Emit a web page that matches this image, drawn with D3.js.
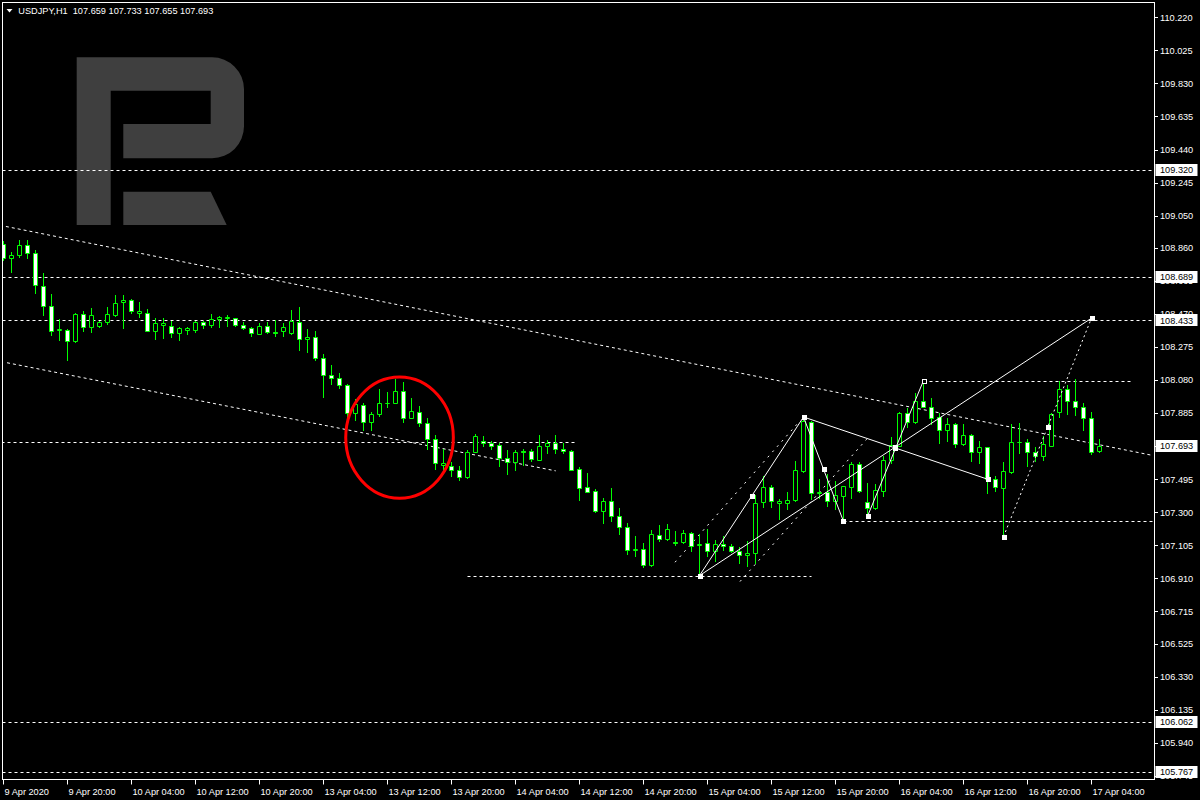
<!DOCTYPE html>
<html><head><meta charset="utf-8">
<script src="https://cdn.jsdelivr.net/npm/d3@7"></script>
<style>html,body{margin:0;padding:0;background:#000;overflow:hidden}svg{display:block}</style>
</head><body>
<svg id="chart" width="1200" height="800"></svg>
<script>
// ---------------- DATA ----------------
const symbol = "USDJPY,H1";
const opens = [108.883,108.801,108.816,108.879,108.832,108.636,108.518,108.376,108.377,108.310,
108.471,108.395,108.398,108.424,108.463,108.542,108.554,108.475,108.477,108.371,
108.406,108.400,108.357,108.377,108.377,108.424,108.406,108.442,108.445,108.445,
108.404,108.389,108.353,108.400,108.363,108.371,108.357,108.424,108.324,108.336,
108.212,108.112,108.094,108.053,107.888,107.935,107.835,107.880,107.945,107.947,
108.018,107.856,107.894,107.829,107.735,107.576,107.570,107.550,107.505,107.656,
107.723,107.711,107.694,107.621,107.597,107.664,107.664,107.611,107.688,107.706,
107.676,107.664,107.558,107.446,107.423,107.305,107.364,107.276,107.211,107.080,
107.081,106.987,107.164,107.140,107.123,107.123,107.176,107.109,107.117,107.070,
107.111,107.099,107.070,107.046,107.058,107.358,107.446,107.352,107.352,107.370,
107.544,107.835,107.411,107.417,107.364,107.397,107.446,107.582,107.358,107.326,
107.426,107.611,107.691,107.888,107.833,107.959,107.923,107.859,107.788,107.818,
107.700,107.753,107.653,107.682,107.499,107.444,107.537,107.717,107.717,107.653,
107.629,107.691,107.894,108.025,107.959,107.923,107.853,107.659];
const highs = [108.903,108.834,108.909,108.909,108.848,108.713,108.585,108.442,108.380,108.477,
108.485,108.502,108.426,108.512,108.579,108.579,108.556,108.542,108.501,108.448,
108.448,108.430,108.395,108.395,108.426,108.426,108.471,108.459,108.465,108.448,
108.424,108.395,108.418,108.424,108.436,108.418,108.496,108.512,108.383,108.371,
108.232,108.167,108.120,108.058,107.966,107.947,107.892,108.025,108.012,108.084,
108.067,107.976,107.929,107.855,107.754,107.674,107.597,107.572,107.670,107.760,
107.749,107.723,107.706,107.668,107.668,107.674,107.674,107.753,107.729,107.753,
107.711,107.667,107.564,107.529,107.435,107.382,107.441,107.323,107.234,107.158,
107.117,107.193,107.223,107.229,107.187,107.193,107.181,107.170,107.199,107.134,
107.158,107.111,107.093,107.128,107.399,107.511,107.458,107.376,107.417,107.605,
107.862,107.839,107.499,107.525,107.485,107.455,107.594,107.594,107.470,107.464,
107.633,107.741,107.890,107.913,108.002,108.078,107.972,107.888,107.853,107.829,
107.823,107.764,107.721,107.685,107.515,107.594,107.818,107.829,107.735,107.682,
107.747,107.885,108.072,108.049,108.084,107.947,107.894,107.733];
const lows = [108.791,108.716,108.807,108.797,108.592,108.463,108.345,108.316,108.198,108.304,
108.369,108.363,108.392,108.410,108.460,108.386,108.475,108.453,108.368,108.322,
108.327,108.333,108.316,108.351,108.365,108.386,108.392,108.392,108.398,108.398,
108.379,108.339,108.349,108.359,108.339,108.339,108.351,108.257,108.245,108.199,
107.980,108.055,108.035,107.856,107.845,107.784,107.784,107.868,107.923,107.945,
107.835,107.853,107.809,107.674,107.556,107.550,107.515,107.489,107.503,107.654,
107.691,107.674,107.574,107.527,107.550,107.580,107.603,107.609,107.650,107.650,
107.647,107.550,107.373,107.418,107.299,107.234,107.250,107.170,107.052,107.040,
106.975,106.985,107.128,107.134,107.108,107.117,107.073,106.926,107.040,107.011,
107.075,107.064,106.999,106.985,106.999,107.329,107.329,107.258,107.317,107.368,
107.540,107.378,107.382,107.338,107.319,107.246,107.384,107.417,107.277,107.317,
107.397,107.590,107.689,107.803,107.829,107.919,107.823,107.711,107.721,107.686,
107.697,107.603,107.591,107.411,107.426,107.157,107.529,107.647,107.574,107.603,
107.609,107.689,107.859,107.878,107.874,107.786,107.641,107.655];
const closes = [108.801,108.820,108.879,108.830,108.642,108.516,108.371,108.379,108.312,108.471,
108.392,108.465,108.424,108.471,108.536,108.554,108.486,108.489,108.371,108.418,
108.418,108.359,108.389,108.389,108.424,108.406,108.442,108.453,108.453,108.404,
108.389,108.359,108.400,108.363,108.357,108.395,108.430,108.324,108.336,108.211,
108.110,108.092,108.051,107.888,107.937,107.835,107.882,107.947,107.947,108.014,
107.856,107.900,107.829,107.735,107.588,107.588,107.550,107.505,107.653,107.747,
107.709,107.691,107.621,107.597,107.653,107.653,107.617,107.688,107.706,107.674,
107.664,107.552,107.444,107.420,107.305,107.364,107.276,107.211,107.075,107.083,
106.987,107.170,107.140,107.199,107.117,107.176,107.103,107.115,107.070,107.111,
107.099,107.070,107.046,107.058,107.352,107.446,107.364,107.364,107.370,107.547,
107.839,107.411,107.417,107.364,107.401,107.452,107.582,107.423,107.323,107.429,
107.609,107.696,107.888,107.835,107.959,107.923,107.853,107.788,107.818,107.700,
107.753,107.653,107.682,107.495,107.446,107.541,107.717,107.714,107.653,107.629,
107.700,107.882,108.025,107.959,107.923,107.853,107.658,107.693];

const timeLabels = ["9 Apr 2020","9 Apr 20:00","10 Apr 04:00","10 Apr 12:00","10 Apr 20:00",
"13 Apr 04:00","13 Apr 12:00","13 Apr 20:00","14 Apr 04:00","14 Apr 12:00","14 Apr 20:00",
"15 Apr 04:00","15 Apr 12:00","15 Apr 20:00","16 Apr 04:00","16 Apr 12:00","16 Apr 20:00","17 Apr 04:00"];
const barsPerTimeLabel = 8;

const priceTicks = [110.220,110.025,109.830,109.635,109.440,109.245,109.050,108.860,108.665,108.470,
108.275,108.080,107.885,107.690,107.495,107.300,107.105,106.910,106.715,106.525,106.330,106.135,105.940,105.745];
const priceMin = 105.745, priceMax = 110.220;

// full-width horizontal levels
const levelPrices = [109.320, 108.689, 108.433, 106.062, 105.767];
// horizontal segments: price, from bar, to bar
const segmentPrices = [107.717, 106.926, 108.077, 107.246];
const segmentFrom   = [-1, 58, 115, 105];
const segmentTo     = [71.5, 101, 141.2, 150];

// descending channel (bar, price)
const channelFrom = [[0.3,108.986],[0.44,108.182]];
const channelTo   = [[143.56,107.636],[69.03,107.544]];

// wave lines (bar, price)
const waveFrom = [[87,106.926],[100,107.862],[108,107.276],[100,107.862],[87,106.926]];
const waveTo   = [[100,107.862],[105,107.246],[115,108.077],[123,107.495],[136,108.445]];
const projFrom = [[125,107.156]];
const projTo   = [[136,108.445]];
// parallel dotted lines
const forkFrom = [[83.94,107.005],[92.06,106.891]];
const forkTo   = [[99.31,107.826],[107.9,107.731]];
// peak marker (bar, price)
const peakMark = [115,108.077];

// highlight ellipse bounds
const circleBars = [42.78, 56.23];
const circlePrices = [108.098, 107.383];

// ---------------- DRAW ----------------
const W = 1200, H = 800;
const plotL = 2.5, plotT = 2.5, plotR = 1154.5, plotB = 779.5;
const svg = d3.select("#chart");
svg.append("rect").attr("width",W).attr("height",H).attr("fill","#000");

const x = d3.scaleLinear().domain([0, opens.length-1]).range([3.5, 3.5 + 8*(opens.length-1)]);
const y = d3.scaleLinear().domain([priceMin, priceMax]).range([775.8, 17.3]);
const FONT = "'Liberation Sans', Arial, sans-serif";

svg.append("defs").append("clipPath").attr("id","plot")
  .append("rect").attr("x",plotL+0.5).attr("y",plotT+0.5).attr("width",plotR-plotL-1).attr("height",plotB-plotT-1);

// logo
svg.append("g").attr("fill","#3f3f3f").selectAll("path")
  .data(["M76.7,57.3 H212 A32,32 0 0 1 244,89.3 V126.3 A32,32 0 0 1 212,158.3 H123.3 V124 H210.7 V90.7 H110.7 V225 H76.7 Z",
         "M123.3,191.7 H210.7 L226.7,225 H123.3 Z"])
  .join("path").attr("d", d=>d);

const g = svg.append("g").attr("clip-path","url(#plot)");
const px = v => Math.round(v) + 0.5;

// full-width levels
g.append("g").selectAll("line").data(levelPrices).join("line")
  .attr("x1", plotL).attr("x2", plotR)
  .attr("y1", d=>px(y(d))).attr("y2", d=>px(y(d)))
  .attr("stroke","#fff").attr("stroke-dasharray","3,3");

// segment levels
g.append("g").selectAll("line").data(segmentPrices).join("line")
  .attr("x1",(d,i)=>x(segmentFrom[i])).attr("x2",(d,i)=>x(segmentTo[i]))
  .attr("y1", d=>px(y(d))).attr("y2", d=>px(y(d)))
  .attr("stroke","#fff").attr("stroke-dasharray","3,3");

// channel
g.append("g").selectAll("line").data(channelFrom).join("line")
  .attr("x1",d=>x(d[0])).attr("y1",d=>y(d[1]))
  .attr("x2",(d,i)=>x(channelTo[i][0])).attr("y2",(d,i)=>y(channelTo[i][1]))
  .attr("stroke","#fff").attr("stroke-dasharray","3,3");

// fork lines
g.append("g").selectAll("line").data(forkFrom).join("line")
  .attr("x1",d=>x(d[0])).attr("y1",d=>y(d[1]))
  .attr("x2",(d,i)=>x(forkTo[i][0])).attr("y2",(d,i)=>y(forkTo[i][1]))
  .attr("stroke","#fff").attr("stroke-dasharray","2,5");

// candles
const cg = g.append("g");
opens.forEach((o,i)=>{
  const cx = x(i), c = closes[i];
  cg.append("line").attr("x1",cx).attr("x2",cx)
    .attr("y1",Math.round(y(highs[i]))).attr("y2",Math.round(y(lows[i]))+1)
    .attr("stroke","#00ff00");
  const t = Math.round(Math.min(y(o),y(c))) + 0.5, b = Math.round(Math.max(y(o),y(c))) + 0.5;
  cg.append("path").attr("d",`M${cx-2},${t}H${cx+2}V${b}H${cx-2}Z`)
    .attr("fill", c >= o ? "#000" : "#fff").attr("stroke","#00ff00");
});

// wave lines
const wg = g.append("g");
wg.selectAll("line.w").data(waveFrom).join("line").attr("class","w")
  .attr("x1",d=>x(d[0])).attr("y1",d=>y(d[1]))
  .attr("x2",(d,i)=>x(waveTo[i][0])).attr("y2",(d,i)=>y(waveTo[i][1]))
  .attr("stroke","#fff");
wg.selectAll("line.p").data(projFrom).join("line").attr("class","p")
  .attr("x1",d=>x(d[0])).attr("y1",d=>y(d[1]))
  .attr("x2",(d,i)=>x(projTo[i][0])).attr("y2",(d,i)=>y(projTo[i][1]))
  .attr("stroke","#fff").attr("stroke-dasharray","2,3");

// markers: endpoints and midpoints
const marks = [];
[[waveFrom,waveTo],[projFrom,projTo]].forEach(([A,B])=>{
  A.forEach((a,i)=>{const b=B[i];
    marks.push(a,b,[(a[0]+b[0])/2,(a[1]+b[1])/2]);});
});
wg.selectAll("rect.m").data(marks).join("rect").attr("class","m")
  .attr("x",d=>Math.round(x(d[0]))-2).attr("y",d=>Math.round(y(d[1]))-2)
  .attr("width",5).attr("height",5).attr("fill","#fff");
wg.append("rect").attr("x",Math.round(x(peakMark[0]))-2+0.5).attr("y",Math.round(y(peakMark[1]))-2+0.5)
  .attr("width",4).attr("height",4).attr("fill","#000").attr("stroke","#fff");

// red ellipse
const ex0 = x(circleBars[0]), ex1 = x(circleBars[1]), ey0 = y(circlePrices[0]), ey1 = y(circlePrices[1]);
g.append("ellipse").attr("cx",(ex0+ex1)/2).attr("cy",(ey0+ey1)/2)
  .attr("rx",(ex1-ex0)/2).attr("ry",(ey1-ey0)/2)
  .attr("fill","none").attr("stroke","#ff0000").attr("stroke-width",3);

// frame
svg.append("rect").attr("x",plotL).attr("y",plotT).attr("width",plotR-plotL).attr("height",plotB-plotT)
  .attr("fill","none").attr("stroke","#fff");

// price axis
const pa = svg.append("g");
pa.selectAll("line").data(priceTicks).join("line")
  .attr("x1",plotR+0.5).attr("x2",plotR+3.5)
  .attr("y1",d=>px(y(d))).attr("y2",d=>px(y(d))).attr("stroke","#fff");
pa.selectAll("text").data(priceTicks).join("text")
  .attr("x",1160).attr("y",d=>y(d)+3.4)
  .attr("fill","#fff").attr("font-family",FONT).attr("font-size","9.2px")
  .text(d=>d.toFixed(3));

// boxed labels: levels + current close
const boxVals = levelPrices.concat([closes[closes.length-1]]);
const bx = svg.append("g");
bx.selectAll("rect").data(boxVals).join("rect")
  .attr("x",plotR+1).attr("y",d=>Math.round(y(d))-6).attr("width",42).attr("height",12).attr("fill","#fff");
bx.selectAll("text").data(boxVals).join("text")
  .attr("x",1160).attr("y",d=>y(d)+3.4)
  .attr("fill","#000").attr("font-family",FONT).attr("font-size","9.2px")
  .text(d=>d.toFixed(3));

// time axis
const ta = svg.append("g");
ta.selectAll("line").data(timeLabels).join("line")
  .attr("x1",(d,k)=>x(k*barsPerTimeLabel)).attr("x2",(d,k)=>x(k*barsPerTimeLabel))
  .attr("y1",plotB).attr("y2",plotB+5).attr("stroke","#fff");
ta.selectAll("text").data(timeLabels).join("text")
  .attr("x",(d,k)=>x(k*barsPerTimeLabel)+1).attr("y",794.5)
  .attr("fill","#fff").attr("font-family",FONT).attr("font-size","9.2px")
  .text(d=>d);

// header
const n = opens.length-1;
svg.append("path").attr("d","M6.5,9 L12.5,9 L9.5,12.5 Z").attr("fill","#fff");
svg.append("text").attr("x",18.3).attr("y",13.7).attr("fill","#fff")
  .attr("font-family",FONT).attr("font-size","9.2px").attr("xml:space","preserve")
  .text(`${symbol}  ${opens[n].toFixed(3)} ${highs[n].toFixed(3)} ${lows[n].toFixed(3)} ${closes[n].toFixed(3)}`);
</script>
</body></html>
